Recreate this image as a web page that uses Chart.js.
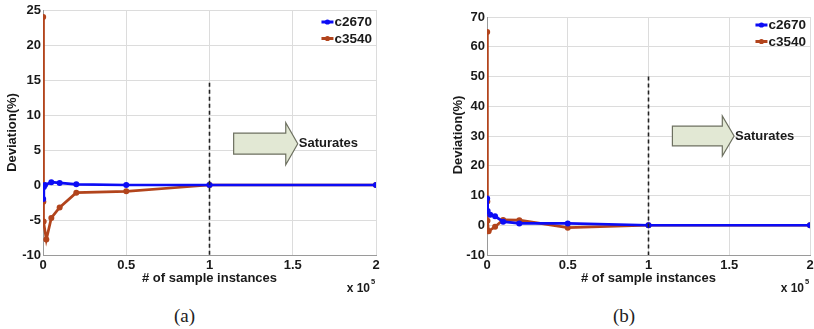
<!DOCTYPE html>
<html>
<head>
<meta charset="utf-8">
<script src="https://cdn.jsdelivr.net/npm/chart.js@4.4.1/dist/chart.umd.min.js"></script>
<style>
  html,body{margin:0;padding:0;background:#fff;width:814px;height:329px;overflow:hidden;}
  .wrap{position:absolute;top:0;}
  .cap{position:absolute;top:305px;font-family:"Liberation Serif","DejaVu Serif",serif;font-size:19px;color:#222;}
</style>
</head>
<body>
<div class="wrap" style="left:0;width:400px;height:300px;"><canvas id="ca" width="400" height="300"></canvas></div>
<div class="wrap" style="left:400px;width:414px;height:300px;"><canvas id="cb" width="414" height="300"></canvas></div>
<div class="cap" style="left:174px;">(a)</div>
<div class="cap" style="left:613px;">(b)</div>
<script>
// ---- data (x in units of 10^5 sample instances, y = deviation %) ----
const seriesNames = ["c2670", "c3540"];
const xTickLabels = ["0", "0.5", "1", "1.5", "2"];

const a_c2670_x = [0.001, 0.005, 0.012, 0.05, 0.1, 0.2, 0.5, 1, 2];
const a_c2670_y = [-2.0, -0.3, 0.0, 0.4, 0.3, 0.1, 0.0, 0.0, 0.0];
const a_c3540_x = [0.001, 0.002, 0.004, 0.02, 0.05, 0.1, 0.2, 0.5, 1, 2];
const a_c3540_y = [24.0, -2.4, -5.2, -7.8, -4.7, -3.2, -1.1, -0.9, 0.0, 0.0];

const b_c2670_x = [0.001, 0.004, 0.02, 0.05, 0.1, 0.2, 0.5, 1, 2];
const b_c2670_y = [9.0, 4.8, 3.5, 3.0, 1.2, 0.6, 0.6, 0.0, 0.0];
const b_c3540_x = [0.001, 0.002, 0.003, 0.01, 0.05, 0.1, 0.2, 0.5, 1, 2];
const b_c3540_y = [65.0, 8.0, 1.5, -2.0, -0.5, 1.8, 1.7, -0.8, 0.0, 0.0];

const a_yTicks = [-10, -5, 0, 5, 10, 15, 20, 25];
const b_yTicks = [-10, 0, 10, 20, 30, 40, 50, 60, 70];

const colors = ["#0c0cf5", "#b2441c"];
const FONT = "'Liberation Sans', Arial, sans-serif";

function pts(xs, ys){ return xs.map((x,i)=>({x:x, y:ys[i]})); }

function annot(opts){
  return {
    id:'annot',
    afterDatasetsDraw(chart){
      const ctx = chart.ctx, xs = chart.scales.x, ys = chart.scales.y, ca = chart.chartArea;
      ctx.save();
      // dashed vertical line at x = 1
      ctx.strokeStyle = '#222'; ctx.lineWidth = 1.6; ctx.setLineDash([4,3]);
      ctx.beginPath();
      ctx.moveTo(xs.getPixelForValue(1), ys.getPixelForValue(opts.dashTop));
      ctx.lineTo(xs.getPixelForValue(1), ca.bottom);
      ctx.stroke();
      ctx.setLineDash([]);
      // arrow
      const a = opts.arrow;
      const X = v=>xs.getPixelForValue(v), Y = v=>ys.getPixelForValue(v);
      ctx.beginPath();
      ctx.moveTo(X(a.x0), Y(a.bt));
      ctx.lineTo(X(a.x1), Y(a.bt));
      ctx.lineTo(X(a.x1), Y(a.ht));
      ctx.lineTo(X(a.tip), Y((a.bt+a.bb)/2));
      ctx.lineTo(X(a.x1), Y(a.hb));
      ctx.lineTo(X(a.x1), Y(a.bb));
      ctx.lineTo(X(a.x0), Y(a.bb));
      ctx.closePath();
      ctx.fillStyle = '#e2e8d4'; ctx.fill();
      ctx.strokeStyle = '#6d7060'; ctx.lineWidth = 1.2; ctx.stroke();
      ctx.fillStyle = '#1a1a1a';
      ctx.font = "bold 13px " + FONT;
      ctx.textAlign = 'left'; ctx.textBaseline = 'middle';
      ctx.fillText('Saturates', X(a.tip)+1, Y((a.bt+a.bb)/2));
      // legend
      ctx.font = "bold 13.5px " + FONT;
      chart.data.datasets.forEach((ds,i)=>{
        const y = ca.top + opts.legTop + i*16.5;
        const xr = ca.right - 4;
        const tw = ctx.measureText(ds.label).width;
        const tx = xr - tw;
        ctx.strokeStyle = ds.borderColor; ctx.lineWidth = 3;
        ctx.beginPath(); ctx.moveTo(tx-13, y); ctx.lineTo(tx-1, y); ctx.stroke();
        ctx.fillStyle = ds.borderColor;
        ctx.beginPath(); ctx.arc(tx-7, y, 2.6, 0, Math.PI*2); ctx.fill();
        ctx.fillStyle = '#1a1a1a';
        ctx.textAlign = 'left';
        ctx.fillText(ds.label, tx, y+0.5);
      });
      // axis titles
      ctx.font = "bold 13px " + FONT;
      ctx.textAlign = 'center';
      ctx.fillText('# of sample instances', X(1), 278);
      ctx.save();
      ctx.translate(opts.yTitleX, (ca.top+ca.bottom)/2 + opts.yTitleDy);
      ctx.rotate(-Math.PI/2);
      ctx.fillText('Deviation(%)', 0, 0);
      ctx.restore();
      // x 10^5
      ctx.textAlign = 'right';
      ctx.font = "bold 12px " + FONT;
      const ex = ca.right - 4;
      ctx.fillText('x 10', ex - 2, 289);
      ctx.font = "bold 7.5px " + FONT;
      ctx.textAlign = 'left';
      ctx.fillText('5', ex - 1, 282);
      ctx.restore();
    }
  };
}

function makeChart(id, d1, d2, yTicks, pad, yW, opts){
  const ymin = yTicks[0], ymax = yTicks[yTicks.length-1];
  const step = yTicks[1]-yTicks[0];
  return new Chart(document.getElementById(id), {
    type:'line',
    data:{datasets:[
      {label:seriesNames[0], data:d1, borderColor:colors[0], backgroundColor:colors[0], borderWidth:2.7, pointRadius:3, pointBorderWidth:0, tension:0},
      {label:seriesNames[1], data:d2, borderColor:colors[1], backgroundColor:colors[1], borderWidth:2.7, pointRadius:3, pointBorderWidth:0, tension:0}
    ]},
    options:{
      responsive:false, animation:false,
      layout:{padding:pad},
      plugins:{legend:{display:false}, tooltip:{enabled:false}},
      scales:{
        x:{type:'linear', min:0, max:2,
          afterBuildTicks(s){ s.ticks = xTickLabels.map(v=>({value:parseFloat(v)})); },
          ticks:{callback:(v)=>xTickLabels.find(t=>parseFloat(t)===v), color:'#1a1a1a', font:{family:FONT, size:13, weight:'bold'}, padding:3, maxRotation:0},
          grid:{color:'#dcdcdc', lineWidth:1, drawTicks:false},
          border:{color:'#9a9a9a', width:1},
          afterFit(s){ s.height = 45; s.paddingLeft = 0; s.paddingRight = 0; }
        },
        y:{min:ymin, max:ymax,
          afterBuildTicks(s){ s.ticks = yTicks.map(v=>({value:v})); },
          ticks:{color:'#1a1a1a', font:{family:FONT, size:13, weight:'bold'}, padding:2, stepSize:step},
          grid:{color:'#dcdcdc', lineWidth:1, drawTicks:false},
          border:{color:'#9a9a9a', width:1},
          afterFit(s){ s.width = yW; s.paddingTop = 0; s.paddingBottom = 0; }
        }
      }
    },
    plugins:[annot(opts)]
  });
}

makeChart('ca', pts(a_c2670_x,a_c2670_y), pts(a_c3540_x,a_c3540_y), a_yTicks,
  {top:10, left:0, right:24, bottom:0}, 43,
  {dashTop:14.6, arrow:{x0:1.145, x1:1.458, tip:1.53, bt:7.4, bb:4.4, ht:8.9, hb:2.9}, legTop:12, yTitleX:12, yTitleDy:0});

makeChart('cb', pts(b_c2670_x,b_c2670_y), pts(b_c3540_x,b_c3540_y), b_yTicks,
  {top:17, left:0, right:0, bottom:0}, 87,
  {dashTop:50, arrow:{x0:1.148, x1:1.457, tip:1.53, bt:33.3, bb:26.7, ht:36.7, hb:23.3}, legTop:8, yTitleX:58, yTitleDy:-1});
</script>
</body>
</html>
